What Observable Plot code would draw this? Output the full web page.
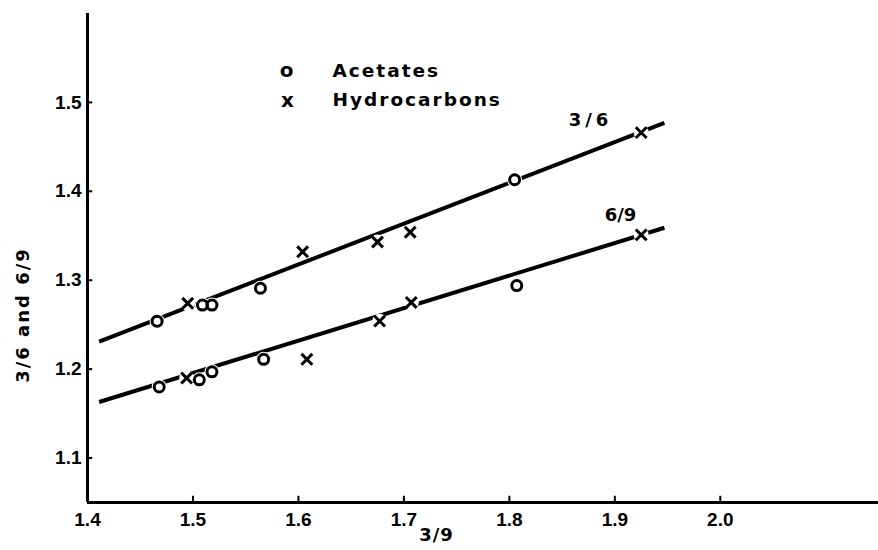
<!DOCTYPE html>
<html><head><meta charset="utf-8">
<script src="https://cdn.jsdelivr.net/npm/d3@7"></script>
<script src="https://cdn.jsdelivr.net/npm/@observablehq/plot@0.6"></script>
<style>
body{margin:0;background:#fff;}
#chart{width:878px;height:550px;}
</style></head><body><div id="chart"></div>
<script>
// ---- data ----
const xTicks = [1.4, 1.5, 1.6, 1.7, 1.8, 1.9, 2.0];
const xTickLabels = ["1.4", "1.5", "1.6", "1.7", "1.8", "1.9", "2.0"];
const yTicks = [1.1, 1.2, 1.3, 1.4, 1.5];
const yTickLabels = ["1.1", "1.2", "1.3", "1.4", "1.5"];

// 3/6 series
const acetX36 = [1.466, 1.509, 1.518, 1.564, 1.805];
const acetY36 = [1.254, 1.272, 1.272, 1.291, 1.413];
const hydroX36 = [1.495, 1.604, 1.675, 1.706, 1.925];
const hydroY36 = [1.274, 1.332, 1.343, 1.354, 1.466];
// 6/9 series
const acetX69 = [1.468, 1.506, 1.518, 1.567, 1.807];
const acetY69 = [1.180, 1.188, 1.197, 1.211, 1.294];
const hydroX69 = [1.494, 1.608, 1.677, 1.707, 1.925];
const hydroY69 = [1.190, 1.211, 1.254, 1.275, 1.351];

// fitted lines (end points as drawn)
const lineX = [1.411, 1.947];
const line36 = [1.231, 1.477];
const line69 = [1.163, 1.359];

const legendLabels = ["Acetates", "Hydrocarbons"];
const legendGlyphs = ["o", "x"];
const lineLabels = ["3/6", "6/9"];
const xTitle = "3/9";
const yTitle = "3/6 and 6/9";

// ---- build tables ----
const pts = [];
function add(xs, ys, kind, series) { xs.forEach((x, i) => pts.push({x, y: ys[i], kind, series})); }
add(acetX36, acetY36, "Acetates", "3/6");
add(hydroX36, hydroY36, "Hydrocarbons", "3/6");
add(acetX69, acetY69, "Acetates", "6/9");
add(hydroX69, hydroY69, "Hydrocarbons", "6/9");
const lines = [];
lineX.forEach((x, i) => { lines.push({x, y: line36[i], s: "3/6"}); lines.push({x, y: line69[i], s: "6/9"}); });

const tickFont = "'Liberation Sans', Arial, sans-serif";
const labFont = "'DejaVu Sans', sans-serif";
const txt = {fontWeight: "bold", fontFamily: labFont, textAnchor: "middle"};

const plot = Plot.plot({
  width: 878, height: 550,
  marginLeft: 87, marginRight: 0, marginTop: 13, marginBottom: 48,
  x: {domain: [1.4, 2.15]},
  y: {domain: [1.05, 1.6]},
  style: {background: "#fff", color: "#000"},
  marks: [
    Plot.line(lines, {x: "x", y: "y", z: "s", stroke: "#000", strokeWidth: 4, strokeLinecap: "butt"}),
    Plot.dot(pts, {x: "x", y: "y", r: 7.5, fill: "#fff", stroke: "none"}),
    Plot.dot(pts.filter(d => d.kind === "Acetates"), {x: "x", y: "y", r: 5, stroke: "#000", strokeWidth: 3, fill: "none"}),
    Plot.dot(pts.filter(d => d.kind === "Hydrocarbons"), {x: "x", y: "y", r: 5, symbol: "times", stroke: "#000", strokeWidth: 3}),
    Plot.ruleX([1.4], {stroke: "#000", strokeWidth: 3}),
    Plot.ruleY([1.05], {stroke: "#000", strokeWidth: 3}),
    Plot.ruleX(xTicks, {y1: 1.05, y2: 1.057, stroke: "#000", strokeWidth: 2}),
    Plot.ruleY(yTicks, {x1: 1.4, x2: 1.405, stroke: "#000", strokeWidth: 2}),
    Plot.axisX({ticks: xTicks, tickFormat: d => xTickLabels[xTicks.indexOf(d)], tickSize: 0, tickPadding: 10, label: null,
      fontSize: 19, fontWeight: "bold", fontFamily: tickFont}),
    Plot.axisY({ticks: yTicks, tickFormat: d => yTickLabels[yTicks.indexOf(d)], tickSize: 0, tickPadding: 6, label: null,
      fontSize: 19, fontWeight: "bold", fontFamily: tickFont}),
    // axis titles
    Plot.text([yTitle], {...txt, frameAnchor: "left", rotate: -90, dx: -64, dy: 57, fontSize: 18}),
    Plot.text([xTitle], {...txt, frameAnchor: "bottom-left", dx: 349, dy: 38, fontSize: 18}),
    // legend
    Plot.text([legendGlyphs[0]], {...txt, frameAnchor: "top-left", dx: 199, dy: 49, fontSize: 20}),
    Plot.text([legendGlyphs[1]], {...txt, frameAnchor: "top-left", dx: 200, dy: 79, fontSize: 20}),
    Plot.text([legendLabels[0]], {...txt, frameAnchor: "top-left", dx: 245, dy: 50, textAnchor: "start", fontSize: 18.5}),
    Plot.text([legendLabels[1]], {...txt, frameAnchor: "top-left", dx: 245, dy: 79, textAnchor: "start", fontSize: 18.5}),
    // line labels
    Plot.text([lineLabels[0]], {...txt, frameAnchor: "top-left", dx: 503, dy: 100, fontSize: 18}),
    Plot.text([lineLabels[1]], {...txt, frameAnchor: "top-left", dx: 533, dy: 195, fontSize: 18})
  ]
});
document.getElementById("chart").appendChild(plot);
d3.select(plot).selectAll("text").each(function() {
  const t = this.textContent;
  if (legendLabels.includes(t) || t === yTitle) this.setAttribute("letter-spacing", "2");
  if (t === lineLabels[0]) this.setAttribute("letter-spacing", "4");
  if (t === xTitle) this.setAttribute("letter-spacing", "1");
});
</script></body></html>
